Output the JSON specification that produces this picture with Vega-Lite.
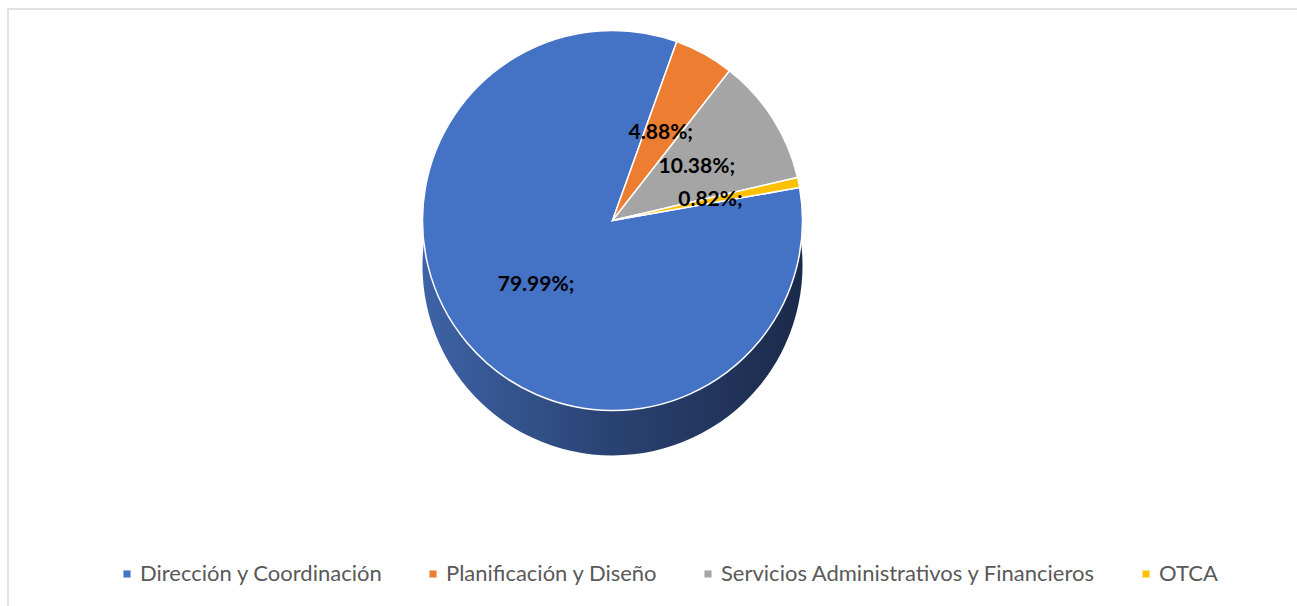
{
  "$schema": "https://vega.github.io/schema/vega-lite/v6.json",
  "width": 1289,
  "height": 597,
  "padding": {"left": 8, "top": 9, "right": 0, "bottom": 0},
  "autosize": {"type": "none"},
  "background": "white",
  "config": {"view": {"stroke": null}},
  "data": {
    "values": [
      {"categoria": "Dirección y Coordinación", "valor": 79.99, "etiqueta": "79.99%;", "orden": 1},
      {"categoria": "Planificación y Diseño", "valor": 4.88, "etiqueta": "4.88%;", "orden": 2},
      {"categoria": "Servicios Administrativos y Financieros", "valor": 10.38, "etiqueta": "10.38%;", "orden": 3},
      {"categoria": "OTCA", "valor": 0.82, "etiqueta": "0.82%;", "orden": 4}
    ]
  },
  "layer": [
    {
      "data": {"values": [{"inicio": 0, "fin": 1}]},
      "mark": {"type": "rect", "fill": null, "stroke": "#D9D9D9", "strokeWidth": 1.5},
      "encoding": {
        "x": {"field": "inicio", "type": "quantitative", "scale": {"domain": [0, 1], "range": [0, 1320]}, "axis": null},
        "x2": {"field": "fin"},
        "y": {"field": "inicio", "type": "quantitative", "scale": {"domain": [0, 1], "range": [0, 630]}, "axis": null},
        "y2": {"field": "fin"}
      }
    },
    {
      "mark": {
        "type": "arc",
        "outerRadius": 190,
        "xOffset": -40,
        "yOffset": -42,
        "fill": {"gradient": "linear", "x1": 0, "y1": 0, "x2": 1, "y2": 0, "stops": [{"offset": 0, "color": "#3E63A6"}, {"offset": 0.5, "color": "#2A4272"}, {"offset": 1, "color": "#1B2A4A"}]},
        "stroke": null
      },
      "encoding": {
        "theta": {"field": "valor", "type": "quantitative", "stack": true, "scale": {"range": [1.3963, 7.6794]}},
        "order": {"field": "orden", "type": "quantitative"}
      }
    },
    {
      "mark": {"type": "arc", "outerRadius": 190, "xOffset": -40, "yOffset": -87, "stroke": "white", "strokeWidth": 1.5},
      "encoding": {
        "theta": {"field": "valor", "type": "quantitative", "stack": true, "scale": {"range": [1.3963, 7.6794]}},
        "order": {"field": "orden", "type": "quantitative"},
        "color": {
          "field": "categoria",
          "type": "nominal",
          "sort": ["Dirección y Coordinación", "Planificación y Diseño", "Servicios Administrativos y Financieros", "OTCA"],
          "scale": {
            "domain": ["Dirección y Coordinación", "Planificación y Diseño", "Servicios Administrativos y Financieros", "OTCA"],
            "range": ["#4472C4", "#ED7D31", "#A5A5A5", "#FFC000"]
          },
          "legend": {
            "title": null,
            "orient": "none",
            "direction": "horizontal",
            "legendX": 108,
            "legendY": 554,
            "symbolType": "square",
            "symbolSize": 50,
            "symbolStrokeWidth": 0,
            "labelFont": "Lato",
            "labelFontSize": 22,
            "labelColor": "#595959",
            "labelLimit": 500,
            "labelOffset": 2,
            "columnPadding": 39,
            "symbolOffset": 0
          }
        }
      }
    },
    {
      "mark": {"type": "text", "radius": 100, "xOffset": -40, "yOffset": -87, "font": "Lato", "fontSize": 21, "fontWeight": "bold", "color": "black"},
      "encoding": {
        "theta": {"field": "valor", "type": "quantitative", "stack": true, "scale": {"range": [1.3963, 7.6794]}},
        "order": {"field": "orden", "type": "quantitative"},
        "text": {"field": "etiqueta", "type": "nominal"}
      }
    }
  ]
}
